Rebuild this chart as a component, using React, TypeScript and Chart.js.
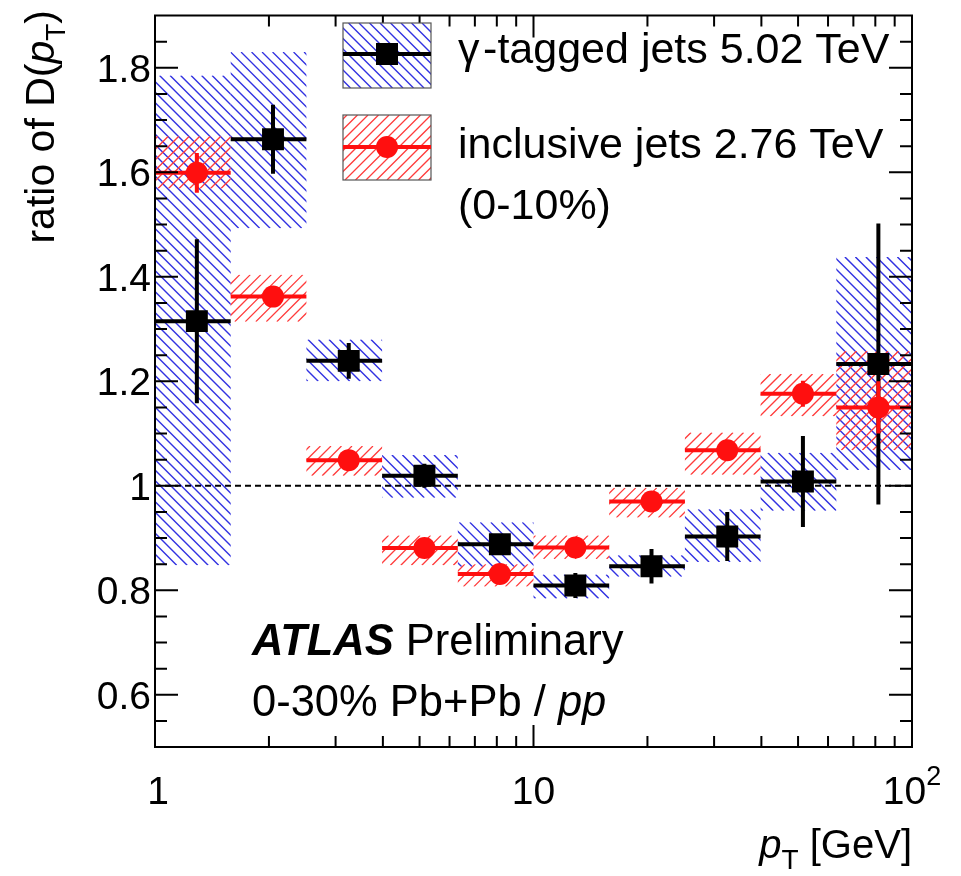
import React, { useEffect, useRef } from 'react';
import { Chart, registerables } from 'chart.js';

Chart.register(...registerables);

// ---------- data ----------
const binEdges = [1, 1.585, 2.512, 3.981, 6.31, 10, 15.85, 25.12, 39.81, 63.1, 100];
const binCenters = [1.29, 2.05, 3.25, 5.15, 8.15, 12.9, 20.5, 32.5, 51.5, 81.5];

const gammaValues = [1.315, 1.663, 1.239, 1.019, 0.888, 0.809, 0.846, 0.903, 1.008, 1.233];
const gammaStat = [0.157, 0.066, 0.034, 0.023, 0.015, 0.024, 0.033, 0.047, 0.087, 0.269];
const gammaSysLow = [0.848, 1.493, 1.2, 0.977, 0.845, 0.784, 0.826, 0.854, 0.952, 1.03];
const gammaSysHigh = [1.785, 1.83, 1.28, 1.059, 0.93, 0.83, 0.867, 0.955, 1.063, 1.438];

const inclValues = [1.599, 1.362, 1.049, 0.881, 0.831, 0.882, 0.97, 1.068, 1.176, 1.15];
const inclStat = [0.038, 0.012, 0.01, 0.01, 0.01, 0.01, 0.012, 0.015, 0.025, 0.05];
const inclSysLow = [1.569, 1.314, 1.019, 0.848, 0.807, 0.86, 0.939, 1.021, 1.133, 1.068];
const inclSysHigh = [1.669, 1.404, 1.076, 0.905, 0.85, 0.905, 0.996, 1.102, 1.214, 1.258];

const yMajorTicks = [0.6, 0.8, 1.0, 1.2, 1.4, 1.6, 1.8];
const yTickLabels = ['0.6', '0.8', '1', '1.2', '1.4', '1.6', '1.8'];
const yMinorTicks = [0.55, 0.65, 0.7, 0.75, 0.85, 0.9, 0.95, 1.05, 1.1, 1.15, 1.25, 1.3, 1.35, 1.45, 1.5, 1.55, 1.65, 1.7, 1.75, 1.85];
const xMajorTicks = [1, 10, 100];
const xTickLabels = ['1', '10', '10'];
const xTickExponents = ['', '', '2'];
const xMinorTicks = [2, 3, 4, 5, 6, 7, 8, 9, 20, 30, 40, 50, 60, 70, 80, 90];

const legendLabels = ['γ\u200A-tagged jets 5.02 TeV', 'inclusive jets 2.76 TeV', '(0-10%)'];

// ---------- styles ----------
const FONT = '"Liberation Sans", Arial, Helvetica, sans-serif';
const BLUE = 'rgb(50,50,225)';
const RED = 'rgb(255,15,15)';
const RED_HATCH = 'rgb(255,60,60)';
const HATCH_SPACING = 10.5;

type Part = { text: string; font: string; dy?: number };

function partsWidth(ctx: CanvasRenderingContext2D, parts: Part[]) {
  let w = 0;
  for (const p of parts) {
    ctx.font = p.font;
    w += ctx.measureText(p.text).width;
  }
  return w;
}

function drawParts(ctx: CanvasRenderingContext2D, parts: Part[], x: number, y: number) {
  let cx = x;
  ctx.textAlign = 'left';
  ctx.textBaseline = 'alphabetic';
  for (const p of parts) {
    ctx.font = p.font;
    ctx.fillText(p.text, cx, y + (p.dy || 0));
    cx += ctx.measureText(p.text).width;
  }
}

function hatchRect(
  ctx: CanvasRenderingContext2D,
  x0: number, y0: number, x1: number, y1: number,
  color: string, dir: 'back' | 'fwd', spacing: number, lw: number
) {
  ctx.save();
  ctx.beginPath();
  ctx.rect(x0, y0, x1 - x0, y1 - y0);
  ctx.clip();
  ctx.strokeStyle = color;
  ctx.lineWidth = lw;
  ctx.beginPath();
  if (dir === 'back') {
    const start = Math.floor((x0 - y1) / spacing) * spacing;
    for (let c = start; c <= x1 - y0 + spacing; c += spacing) {
      ctx.moveTo(c + y0, y0);
      ctx.lineTo(c + y1, y1);
    }
  } else {
    const start = Math.floor((x0 + y0) / spacing) * spacing;
    for (let c = start; c <= x1 + y1 + spacing; c += spacing) {
      ctx.moveTo(c - y0, y0);
      ctx.lineTo(c - y1, y1);
    }
  }
  ctx.stroke();
  ctx.restore();
}

const seriesErrors = [
  { values: inclValues, stat: inclStat, color: RED },
  { values: gammaValues, stat: gammaStat, color: '#000' },
];

const atlasPlugin = {
  id: 'atlasPlot',
  beforeDatasetsDraw(chart: any) {
    const { ctx } = chart;
    const x = chart.scales.x;
    const y = chart.scales.y;
    for (let i = 0; i < binCenters.length; i++) {
      const x0 = x.getPixelForValue(binEdges[i]);
      const x1 = x.getPixelForValue(binEdges[i + 1]);
      hatchRect(ctx, x0, y.getPixelForValue(gammaSysHigh[i]), x1, y.getPixelForValue(gammaSysLow[i]), BLUE, 'back', HATCH_SPACING, 1.4);
    }
    for (let i = 0; i < binCenters.length; i++) {
      const x0 = x.getPixelForValue(binEdges[i]);
      const x1 = x.getPixelForValue(binEdges[i + 1]);
      hatchRect(ctx, x0, y.getPixelForValue(inclSysHigh[i]), x1, y.getPixelForValue(inclSysLow[i]), RED_HATCH, 'fwd', HATCH_SPACING, 1.3);
    }
    // dashed reference line at 1
    const ca = chart.chartArea;
    ctx.save();
    ctx.strokeStyle = '#000';
    ctx.lineWidth = 2;
    ctx.setLineDash([6, 4]);
    ctx.beginPath();
    const y1 = y.getPixelForValue(1);
    ctx.moveTo(ca.left, y1);
    ctx.lineTo(ca.right, y1);
    ctx.stroke();
    ctx.restore();
  },
  beforeDatasetDraw(chart: any, args: any) {
    const s = seriesErrors[args.index];
    if (!s) return;
    const { ctx } = chart;
    const x = chart.scales.x;
    const y = chart.scales.y;
    ctx.save();
    ctx.strokeStyle = s.color;
    ctx.lineWidth = 4;
    ctx.beginPath();
    for (let i = 0; i < binCenters.length; i++) {
      const py = y.getPixelForValue(s.values[i]);
      ctx.moveTo(x.getPixelForValue(binEdges[i]), py);
      ctx.lineTo(x.getPixelForValue(binEdges[i + 1]), py);
      const px = x.getPixelForValue(binCenters[i]);
      ctx.moveTo(px, y.getPixelForValue(s.values[i] + s.stat[i]));
      ctx.lineTo(px, y.getPixelForValue(s.values[i] - s.stat[i]));
    }
    ctx.stroke();
    ctx.restore();
  },
  afterDraw(chart: any) {
    const { ctx } = chart;
    const ca = chart.chartArea;
    const x = chart.scales.x;
    const y = chart.scales.y;
    ctx.save();
    // frame
    ctx.strokeStyle = '#000';
    ctx.lineWidth = 2;
    ctx.strokeRect(ca.left, ca.top, ca.right - ca.left, ca.bottom - ca.top);
    // ticks
    ctx.beginPath();
    const yTick = (v: number, len: number) => {
      const py = y.getPixelForValue(v);
      ctx.moveTo(ca.left, py);
      ctx.lineTo(ca.left + len, py);
      ctx.moveTo(ca.right, py);
      ctx.lineTo(ca.right - len, py);
    };
    const xTick = (v: number, len: number) => {
      const px = x.getPixelForValue(v);
      ctx.moveTo(px, ca.bottom);
      ctx.lineTo(px, ca.bottom - len);
      ctx.moveTo(px, ca.top);
      ctx.lineTo(px, ca.top + len);
    };
    yMajorTicks.forEach((v) => yTick(v, 23));
    yMinorTicks.forEach((v) => yTick(v, 12));
    xMajorTicks.forEach((v) => xTick(v, 22));
    xMinorTicks.forEach((v) => xTick(v, 11));
    ctx.stroke();

    ctx.fillStyle = '#000';
    // y tick labels
    ctx.font = `39px ${FONT}`;
    ctx.textAlign = 'right';
    ctx.textBaseline = 'alphabetic';
    yMajorTicks.forEach((v, i) => {
      ctx.fillText(yTickLabels[i], 151, y.getPixelForValue(v) + 14);
    });
    // x tick labels
    xMajorTicks.forEach((v, i) => {
      const parts: Part[] = [{ text: xTickLabels[i], font: `39px ${FONT}` }];
      if (xTickExponents[i]) parts.push({ text: xTickExponents[i], font: `27px ${FONT}`, dy: -19 });
      const w = partsWidth(ctx, parts);
      drawParts(ctx, parts, x.getPixelForValue(v) - w / 2 + (i === 0 ? 3 : 0), 804);
    });

    // x axis title
    const xt: Part[] = [
      { text: 'p', font: `italic 40px ${FONT}` },
      { text: 'T', font: `28px ${FONT}`, dy: 11 },
      { text: ' [GeV]', font: `40px ${FONT}` },
    ];
    drawParts(ctx, xt, ca.right - partsWidth(ctx, xt), 858);

    // y axis title (rotated)
    const yt: Part[] = [
      { text: 'ratio of D(', font: `41px ${FONT}` },
      { text: 'p', font: `italic 41px ${FONT}` },
      { text: 'T', font: `28px ${FONT}`, dy: 11 },
      { text: ')', font: `41px ${FONT}` },
    ];
    ctx.save();
    ctx.translate(54, 10);
    ctx.rotate(-Math.PI / 2);
    drawParts(ctx, yt, -partsWidth(ctx, yt), 0);
    ctx.restore();

    // legend
    const lx0 = 343, lx1 = 431;
    const rows = [
      { top: 23, bottom: 88, mid: 54, color: BLUE, dir: 'back' as const },
      { top: 115, bottom: 180, mid: 147, color: RED_HATCH, dir: 'fwd' as const },
    ];
    rows.forEach((r, i) => {
      ctx.fillStyle = '#fff';
      ctx.fillRect(lx0, r.top, lx1 - lx0, r.bottom - r.top);
      hatchRect(ctx, lx0, r.top, lx1, r.bottom, r.color, r.dir, HATCH_SPACING, i === 0 ? 1.4 : 1.3);
      ctx.strokeStyle = '#555';
      ctx.lineWidth = 1.2;
      ctx.strokeRect(lx0, r.top, lx1 - lx0, r.bottom - r.top);
      const lc = i === 0 ? '#000' : RED;
      ctx.strokeStyle = lc;
      ctx.lineWidth = 4;
      ctx.beginPath();
      ctx.moveTo(lx0, r.mid);
      ctx.lineTo(lx1, r.mid);
      ctx.stroke();
      ctx.fillStyle = lc;
      const cx = (lx0 + lx1) / 2;
      if (i === 0) {
        ctx.fillRect(cx - 11, r.mid - 11, 22, 22);
      } else {
        ctx.beginPath();
        ctx.arc(cx, r.mid, 11, 0, Math.PI * 2);
        ctx.fill();
      }
    });
    ctx.fillStyle = '#000';
    ctx.font = `43px ${FONT}`;
    ctx.textAlign = 'left';
    ctx.fillText(legendLabels[0], 458, 63);
    ctx.fillText(legendLabels[1], 458, 158);
    ctx.fillText(legendLabels[2], 458, 219);

    // ATLAS labels
    drawParts(ctx, [
      { text: 'ATLAS', font: `italic bold 43.5px ${FONT}` },
      { text: ' Preliminary', font: `43.5px ${FONT}` },
    ], 252, 655);
    drawParts(ctx, [
      { text: '0-30% Pb+Pb / ', font: `43.5px ${FONT}` },
      { text: 'pp', font: `italic 43.5px ${FONT}` },
    ], 252, 716);

    ctx.restore();
  },
};

export default function App() {
  const canvasRef = useRef<HTMLCanvasElement | null>(null);

  useEffect(() => {
    document.body.style.margin = '0';
    const canvas = canvasRef.current;
    if (!canvas) return;
    const chart = new Chart(canvas, {
      type: 'scatter',
      data: {
        datasets: [
          {
            label: 'inclusive jets 2.76 TeV',
            data: binCenters.map((xv, i) => ({ x: xv, y: inclValues[i] })),
            pointStyle: 'circle',
            pointRadius: 11,
            pointBackgroundColor: RED,
            pointBorderWidth: 0,
            showLine: false,
            order: 1,
          },
          {
            label: 'γ-tagged jets 5.02 TeV',
            data: binCenters.map((xv, i) => ({ x: xv, y: gammaValues[i] })),
            pointStyle: 'rect',
            pointRadius: 15.5,
            pointBackgroundColor: '#000',
            pointBorderWidth: 0,
            showLine: false,
            order: 2,
          },
        ],
      },
      options: {
        responsive: false,
        animation: false,
        devicePixelRatio: 1,
        events: [],
        layout: { padding: { left: 155, right: 49, top: 8, bottom: 129 } },
        plugins: {
          legend: { display: false },
          tooltip: { enabled: false },
          title: { display: false },
        },
        scales: {
          x: { type: 'logarithmic', min: 1, max: 100, display: false },
          y: { type: 'linear', min: 0.5, max: 1.9, display: false },
        },
      },
      plugins: [atlasPlugin],
    });
    return () => chart.destroy();
  }, []);

  return (
    <div style={{ position: 'absolute', left: 0, top: 0, width: 961, height: 876, background: '#fff' }}>
      <canvas ref={canvasRef} width={961} height={876} style={{ width: 961, height: 876 }} />
    </div>
  );
}
